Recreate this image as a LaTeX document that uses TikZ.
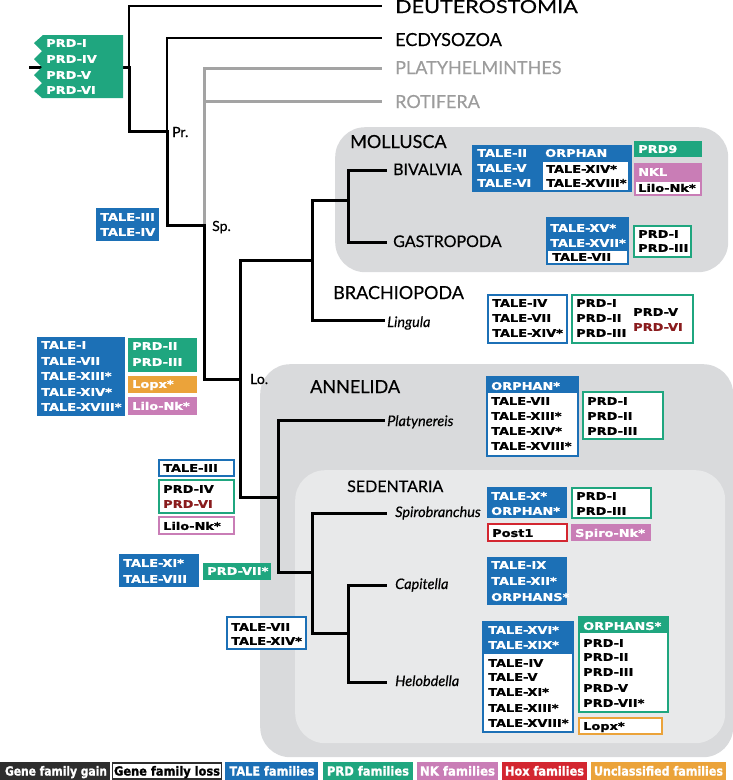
\documentclass[tikz,border=0pt]{standalone}
\usepackage{fontspec}
\setmainfont{Lato}[UprightFeatures={FakeBold=0.35}, ItalicFeatures={FakeBold=0.35}]
\newfontfamily\heavy{DejaVu Sans}[FakeStretch=1.22, BoldFeatures={FakeBold=1.0}]
\newfontfamily\legf{DejaVu Sans}[BoldFeatures={FakeBold=1.2}]
\definecolor{tale}{HTML}{1C70B6}
\definecolor{prd}{HTML}{1FA67F}
\definecolor{nk}{HTML}{C97DB6}
\definecolor{hox}{HTML}{D32630}
\definecolor{unc}{HTML}{EBA33A}
\definecolor{dred}{HTML}{8A1B1D}
\definecolor{gline}{HTML}{A3A3A3}
\definecolor{gtext}{HTML}{9C9C9C}
\definecolor{bgd}{HTML}{D9DADC}
\definecolor{bgl}{HTML}{E8E9EA}
\definecolor{gain}{HTML}{2E2E2E}
\newcounter{tn}
\newcommand{\gbox}[6]{\node[#6, anchor=north west, minimum width=#4pt, minimum height=#5pt] (#1) at (#2,#3) {};}
\newcommand{\rowtxt}[4][white]{\stepcounter{tn}\node[bt, text=#1] (t\arabic{tn}) at (#2,{#3+3.9}) {#4};}
\begin{document}
\begin{tikzpicture}[x=1pt,y=-1pt,
  br/.style={line width=3pt, black, line cap=rect},
  thn/.style={line width=2pt, black},
  gry/.style={line width=3pt, gline},
  fbox/.style={fill=#1, draw=none, inner sep=0pt, outer sep=0pt},
  obox/.style={fill=white, draw=#1, line width=1.5pt, inner sep=0pt, outer sep=0pt},
  bgbox/.style={fill=#1, draw=none, inner sep=0pt, rounded corners=30pt},
  bt/.style={font=\heavy\bfseries\fontsize{10.6}{12}\selectfont, inner sep=0pt, anchor=base west},
  clade/.style={font=\fontsize{18}{20}\selectfont, inner sep=0pt, anchor=base west},
  subc/.style={font=\fontsize{16}{19}\selectfont, inner sep=0pt, anchor=base west},
  spec/.style={font=\itshape\fontsize{14.5}{17}\selectfont, inner sep=0pt, anchor=base west},
  nl/.style={font=\fontsize{14}{16}\selectfont, inner sep=0pt, anchor=base west},
  legt/.style={font=\legf\bfseries, inner sep=0pt, anchor=base}
]
\useasboundingbox (0,0) rectangle (733,780);

% background clade boxes
\gbox{molbg}{335}{127}{393}{145}{bgbox=bgd}
\gbox{annbg}{260}{364}{473}{393}{bgbox=bgd}
\gbox{sedbg}{295}{470}{430}{273}{bgbox=bgl}

% tree coordinates
\coordinate (root) at (30,67);
\coordinate (B) at (129,67);
\coordinate (deutE) at (382,6);
\coordinate (P) at (167,131);
\coordinate (ecdE) at (382,38);
\coordinate (S) at (204,225);
\coordinate (platE) at (382,68);
\coordinate (rotE) at (382,101);
\coordinate (L) at (240,379);
\coordinate (T) at (312,260);
\coordinate (M) at (348,200);
\coordinate (bivE) at (385,170);
\coordinate (gasE) at (385,242);
\coordinate (linE) at (383,320);
\coordinate (A) at (278,497);
\coordinate (plnE) at (383,420);
\coordinate (D) at (312,572);
\coordinate (spiE) at (385,513);
\coordinate (C) at (348,633);
\coordinate (capE) at (385,585);
\coordinate (helE) at (385,682);

% branches
\draw[gry] (S) |- (platE);
\draw[gry] (S) |- (rotE);
\draw[thn] (B) |- (deutE);
\draw[thn] (P) |- (ecdE);
\draw[br] (root) -- (B);
\draw[br] (B) |- (P);
\draw[br] (P) |- (S);
\draw[br] (S) |- (L);
\draw[br] (L) |- (T);
\draw[br] (L) |- (A);
\draw[br] (T) |- (M);
\draw[br] (T) |- (linE);
\draw[br] (M) |- (bivE);
\draw[br] (M) |- (gasE);
\draw[br] (A) |- (plnE);
\draw[br] (A) |- (D);
\draw[br] (D) |- (spiE);
\draw[br] (D) |- (C);
\draw[br] (C) |- (capE);
\draw[br] (C) |- (helE);

% labels
\node[clade] (deutL) at (395,13) {\scalebox{1.2}[1]{DEUTEROSTOMIA}};
\node[clade] (ecdL) at (395,46) {ECDYSOZOA};
\node[clade, text=gtext] (platL) at (395,74) {PLATYHELMINTHES};
\node[clade, text=gtext] (rotL) at (395,108) {ROTIFERA};
\node[clade] (molL) at (350,148) {MOLLUSCA};
\node[subc] (bivL) at (393,175) {BIVALVIA};
\node[subc] (gasL) at (393,247) {GASTROPODA};
\node[clade] (braL) at (333,299) {BRACHIOPODA};
\node[spec] (linL) at (387,327) {Lingula};
\node[clade] (annL) at (310,393) {ANNELIDA};
\node[spec] (plnL) at (387,426) {Platynereis};
\node[subc] (sedL) at (347,492) {SEDENTARIA};
\node[spec] (spiL) at (395,517) {Spirobranchus};
\node[spec] (capL) at (395,589) {Capitella};
\node[spec] (helL) at (395,686) {Helobdella};
\node[nl] (prL) at (172,137) {Pr.};
\node[nl] (spL) at (212,231) {Sp.};
\node[nl] (loL) at (250,384) {Lo.};

% top PRD gain box (notched)
\fill[prd] (123,35) -- (43,35) -- (34,43) -- (42,51) -- (34,59) -- (42,67) -- (34,75) -- (42,83) -- (34,91) -- (42,98) -- (123,98) -- cycle;
\rowtxt{46}{43}{PRD-I}
\rowtxt{46}{59}{PRD-IV}
\rowtxt{46}{75}{PRD-V}
\rowtxt{46}{90}{PRD-VI}

% Spiralia gains
\gbox{b1}{96}{208}{63}{33}{fbox=tale}
\rowtxt{100}{217}{TALE-III}
\rowtxt{100}{232}{TALE-IV}

% Lophotrochozoa gains
\gbox{b2}{37}{337}{88}{79}{fbox=tale}
\rowtxt{41}{345}{TALE-I}
\rowtxt{41}{361}{TALE-VII}
\rowtxt{41}{376}{TALE-XIII*}
\rowtxt{41}{392}{TALE-XIV*}
\rowtxt{41}{407}{TALE-XVIII*}
\gbox{b3}{128}{338}{69}{34}{fbox=prd}
\rowtxt{132}{346}{PRD-II}
\rowtxt{132}{362}{PRD-III}
\gbox{b4}{128}{376}{69}{17}{fbox=unc}
\rowtxt{132}{384}{Lopx*}
\gbox{b5}{128}{397}{69}{18}{fbox=nk}
\rowtxt{132}{406}{Lilo-Nk*}

% Annelida losses
\gbox{b6}{159}{460}{75}{16}{obox=tale}
\rowtxt[black]{163}{468}{TALE-III}
\gbox{b7}{159}{480}{75}{33}{obox=prd}
\rowtxt[black]{163}{489}{PRD-IV}
\rowtxt[dred]{163}{504}{PRD-VI}
\gbox{b8}{159}{517}{75}{17}{obox=nk}
\rowtxt[black]{163}{526}{Lilo-Nk*}

% Sedentaria gains
\gbox{b9}{119}{554}{80}{33}{fbox=tale}
\rowtxt{123}{563}{TALE-XI*}
\rowtxt{123}{579}{TALE-VIII}
\gbox{b10}{203}{563}{68}{17}{fbox=prd}
\rowtxt{207}{571}{PRD-VII*}

% Capitella+Helobdella losses
\gbox{b11}{227}{617}{79}{32}{obox=tale}
\rowtxt[black]{231}{627}{TALE-VII}
\rowtxt[black]{231}{641}{TALE-XIV*}

% Bivalvia
\gbox{b12}{472}{145}{160}{47}{fbox=tale}
\gbox{b13}{543}{162}{85}{28}{fbox=white}
\rowtxt{477}{153}{TALE-II}
\rowtxt{477}{168}{TALE-V}
\rowtxt{477}{183}{TALE-VI}
\rowtxt{545}{153}{ORPHAN}
\rowtxt[black]{546}{169}{TALE-XIV*}
\rowtxt[black]{546}{183}{TALE-XVIII*}
\gbox{b14}{634}{141}{68}{16}{fbox=prd}
\rowtxt{638}{149}{PRD9}
\gbox{b15}{634}{163}{68}{33}{fbox=nk}
\gbox{b16}{636}{182}{64}{12}{fbox=white}
\rowtxt{638}{172}{NKL}
\rowtxt[black]{638}{188}{Lilo-Nk*}

% Gastropoda
\gbox{b17}{546}{217}{83}{48}{fbox=tale}
\gbox{b18}{548}{251}{79}{12}{fbox=white}
\rowtxt{550}{228}{TALE-XV*}
\rowtxt{550}{243}{TALE-XVII*}
\rowtxt[black]{552}{257}{TALE-VII}
\gbox{b19}{634}{226}{57}{31}{obox=prd}
\rowtxt[black]{638}{234}{PRD-I}
\rowtxt[black]{638}{248}{PRD-III}

% Lingula
\gbox{b20}{488}{295}{79}{48}{obox=tale}
\rowtxt[black]{492}{303}{TALE-IV}
\rowtxt[black]{492}{318}{TALE-VII}
\rowtxt[black]{492}{333}{TALE-XIV*}
\gbox{b21}{572}{295}{121}{48}{obox=prd}
\rowtxt[black]{576}{303}{PRD-I}
\rowtxt[black]{576}{318}{PRD-II}
\rowtxt[black]{576}{333}{PRD-III}
\rowtxt[black]{633}{312}{PRD-V}
\rowtxt[dred]{633}{327}{PRD-VI}

% Platynereis
\gbox{b22}{487}{377}{91}{79}{obox=tale}
\gbox{b23}{487}{377}{91}{16}{fbox=tale}
\rowtxt{491}{386}{ORPHAN*}
\rowtxt[black]{491}{401}{TALE-VII}
\rowtxt[black]{491}{416}{TALE-XIII*}
\rowtxt[black]{491}{431}{TALE-XIV*}
\rowtxt[black]{491}{446}{TALE-XVIII*}
\gbox{b24}{583}{392}{80}{47}{obox=prd}
\rowtxt[black]{587}{401}{PRD-I}
\rowtxt[black]{587}{416}{PRD-II}
\rowtxt[black]{587}{431}{PRD-III}

% Spirobranchus
\gbox{b25}{487}{487}{80}{31}{fbox=tale}
\rowtxt{491}{496}{TALE-X*}
\rowtxt{491}{511}{ORPHAN*}
\gbox{b26}{572}{488}{79}{30}{obox=prd}
\rowtxt[black]{576}{496}{PRD-I}
\rowtxt[black]{576}{511}{PRD-III}
\gbox{b27}{488}{524}{79}{17}{obox=hox}
\rowtxt[black]{492}{533}{Post1}
\gbox{b28}{571}{524}{80}{17}{fbox=nk}
\rowtxt{575}{533}{Spiro-Nk*}

% Capitella
\gbox{b29}{487}{557}{80}{48}{fbox=tale}
\rowtxt{491}{565}{TALE-IX}
\rowtxt{491}{581}{TALE-XII*}
\rowtxt{491}{597}{ORPHANS*}

% Helobdella
\gbox{b30}{483}{622}{90}{110}{obox=tale}
\gbox{b31}{483}{622}{90}{32}{fbox=tale}
\rowtxt{488}{630}{TALE-XVI*}
\rowtxt{488}{645}{TALE-XIX*}
\rowtxt[black]{488}{663}{TALE-IV}
\rowtxt[black]{488}{677}{TALE-V}
\rowtxt[black]{488}{692}{TALE-XI*}
\rowtxt[black]{488}{708}{TALE-XIII*}
\rowtxt[black]{488}{723}{TALE-XVIII*}
\gbox{b32}{579}{617}{89}{95}{obox=prd}
\gbox{b33}{579}{617}{89}{16}{fbox=prd}
\rowtxt{583}{626}{ORPHANS*}
\rowtxt[black]{583}{643}{PRD-I}
\rowtxt[black]{583}{657}{PRD-II}
\rowtxt[black]{583}{672}{PRD-III}
\rowtxt[black]{583}{688}{PRD-V}
\rowtxt[black]{583}{703}{PRD-VII*}
\gbox{b34}{579}{718}{83}{16}{obox=unc}
\rowtxt[black]{583}{726}{Lopx*}

% legend
\gbox{lg1}{0}{762}{110}{18}{fbox=gain}
\node[legt, text=white] (lt1) at (56,775.5) {\resizebox{102pt}{9.5pt}{Gene family gain}};
\gbox{lg2}{112.5}{763}{109}{16}{obox=gain}
\node[legt, text=black] (lt2) at (167,775.5) {\resizebox{106pt}{9.5pt}{Gene family loss}};
\gbox{lg3}{225}{762}{93}{18}{fbox=tale}
\node[legt, text=white] (lt3) at (272,775.5) {\resizebox{85pt}{9.5pt}{TALE families}};
\gbox{lg4}{323}{762}{90}{18}{fbox=prd}
\node[legt, text=white] (lt4) at (368,775.5) {\resizebox{82pt}{9.5pt}{PRD families}};
\gbox{lg5}{417}{762}{81}{18}{fbox=nk}
\node[legt, text=white] (lt5) at (457.5,775.5) {\resizebox{75pt}{9.5pt}{NK families}};
\gbox{lg6}{502}{762}{85}{18}{fbox=hox}
\node[legt, text=white] (lt6) at (544.5,775.5) {\resizebox{79pt}{9.5pt}{Hox families}};
\gbox{lg7}{591}{762}{135}{18}{fbox=unc}
\node[legt, text=white] (lt7) at (658.5,775.5) {\resizebox{129pt}{9.5pt}{Unclassified families}};
\end{tikzpicture}
\end{document}
